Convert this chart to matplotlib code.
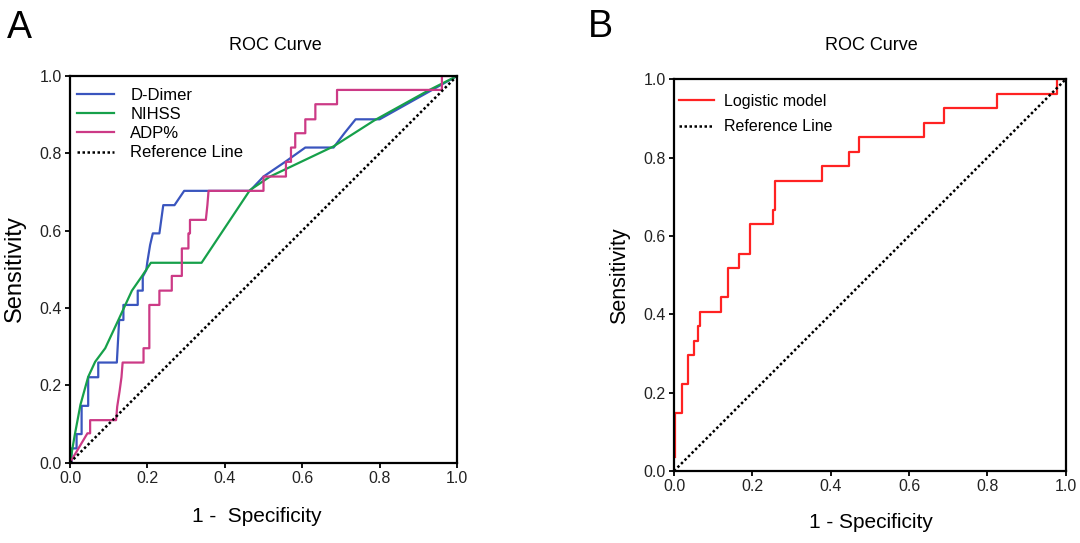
"""
Two ROC panels: (A) single markers D-Dimer / NIHSS / ADP%, (B) the combined logistic model.
"""

import matplotlib.pyplot as plt

plt.rcParams["font.family"] = ["Liberation Sans", "DejaVu Sans"]

# --- Panel A: ROC vertices (1 - specificity, sensitivity) ---
ddimer_fpr = [0, 0.004, 0.004, 0.017, 0.017, 0.030, 0.030, 0.047, 0.047, 0.073, 0.073,
              0.121, 0.127, 0.138, 0.138, 0.175, 0.175, 0.188, 0.188, 0.197, 0.200,
              0.207, 0.214, 0.231, 0.241, 0.270, 0.295, 0.465, 0.500, 0.556, 0.608,
              0.681, 0.709, 0.738, 0.800, 1.0]
ddimer_tpr = [0, 0, 0.037, 0.037, 0.074, 0.074, 0.147, 0.147, 0.221, 0.221, 0.259,
              0.259, 0.369, 0.369, 0.408, 0.408, 0.445, 0.445, 0.481, 0.498, 0.520,
              0.563, 0.593, 0.593, 0.666, 0.666, 0.703, 0.703, 0.740, 0.778, 0.815,
              0.815, 0.852, 0.888, 0.888, 1.0]

nihss_fpr = [0, 0.012, 0.027, 0.047, 0.065, 0.091, 0.125, 0.160, 0.185, 0.209, 0.340,
             0.465, 0.517, 0.681, 0.786, 0.925, 1.0]
nihss_tpr = [0, 0.070, 0.150, 0.222, 0.261, 0.296, 0.369, 0.445, 0.481, 0.517, 0.517,
             0.705, 0.740, 0.818, 0.885, 0.962, 1.0]

adp_fpr = [0, 0.045, 0.052, 0.052, 0.119, 0.122, 0.128, 0.133, 0.136, 0.190, 0.190,
           0.205, 0.205, 0.231, 0.231, 0.263, 0.263, 0.289, 0.289, 0.306, 0.306,
           0.310, 0.310, 0.351, 0.355, 0.358, 0.500, 0.500, 0.558, 0.558, 0.571,
           0.571, 0.582, 0.582, 0.608, 0.608, 0.634, 0.634, 0.690, 0.690, 0.961,
           0.961, 1.0]
adp_tpr = [0, 0.076, 0.076, 0.110, 0.110, 0.145, 0.184, 0.221, 0.259, 0.259, 0.296,
           0.296, 0.408, 0.408, 0.445, 0.445, 0.483, 0.483, 0.554, 0.554, 0.593,
           0.593, 0.628, 0.628, 0.666, 0.703, 0.703, 0.740, 0.740, 0.778, 0.778,
           0.815, 0.815, 0.852, 0.852, 0.888, 0.888, 0.927, 0.927, 0.964, 0.964,
           1.0, 1.0]

# --- Panel B: logistic model, step points (drawn with steps-post) ---
logit_fpr = [0.003, 0.003, 0.020, 0.036, 0.052, 0.061, 0.066, 0.120, 0.137, 0.167,
             0.194, 0.252, 0.258, 0.379, 0.447, 0.472, 0.637, 0.689, 0.825, 0.979, 1.0]
logit_tpr = [0.037, 0.148, 0.222, 0.296, 0.333, 0.370, 0.407, 0.444, 0.518, 0.555,
             0.630, 0.667, 0.741, 0.778, 0.815, 0.852, 0.889, 0.926, 0.963, 1.0, 1.0]

ref_line = [0, 1]
ticks = [0.0, 0.2, 0.4, 0.6, 0.8, 1.0]
tick_labels = ["0.0", "0.2", "0.4", "0.6", "0.8", "1.0"]

W, H = 1080, 543


def style_axes(ax):
    ax.set_xlim(0, 1)
    ax.set_ylim(0, 1)
    ax.set_xticks(ticks)
    ax.set_yticks(ticks)
    ax.set_xticklabels(tick_labels)
    ax.set_yticklabels(tick_labels)
    ax.tick_params(direction="out", length=3.8, width=1.3, pad=2,
                   labelsize=11.5, labelcolor="#222222")
    for sp in ax.spines.values():
        sp.set_linewidth(1.6)
        sp.set_color("black")


def plot_reference(ax):
    ax.plot(ref_line, ref_line, color="black", linewidth=1.8,
            dashes=(1, 1), label="Reference Line")


fig = plt.figure(figsize=(W / 100, H / 100), dpi=100)

# Panel A
axA = fig.add_axes([70 / W, (H - 462.7) / H, 387 / W, 386.7 / H])
axA.plot(ddimer_fpr, ddimer_tpr, color="#3A55BE", linewidth=1.6, label="D-Dimer")
axA.plot(nihss_fpr, nihss_tpr, color="#16A04A", linewidth=1.6, label="NIHSS")
axA.plot(adp_fpr, adp_tpr, color="#CC3A86", linewidth=1.6, label="ADP%")
plot_reference(axA)
style_axes(axA)
axA.legend(loc="upper left", bbox_to_anchor=(0.018, 0.969), frameon=False,
           fontsize=12, handlelength=2.2, handletextpad=1.0, labelspacing=0.25,
           borderaxespad=0, borderpad=0)

# Panel B
axB = fig.add_axes([674 / W, (H - 471) / H, 391.7 / W, 391.7 / H])
axB.plot(logit_fpr, logit_tpr, color="#FF2222", linewidth=1.6,
         drawstyle="steps-post", label="Logistic model")
plot_reference(axB)
style_axes(axB)
axB.legend(loc="upper left", bbox_to_anchor=(0.012, 0.963), frameon=False,
           fontsize=11.5, handlelength=2.2, handletextpad=0.65, labelspacing=0.65,
           borderaxespad=0, borderpad=0)

# Text placed to match the source layout
fig.text(7 / W, 1 - 38 / H, "A", fontsize=27, ha="left", va="baseline")
fig.text(588 / W, 1 - 37 / H, "B", fontsize=27, ha="left", va="baseline")
fig.text(275 / W, 1 - 46 / H, "ROC Curve", fontsize=13, ha="center", va="center")
fig.text(871.7 / W, 1 - 46 / H, "ROC Curve", fontsize=13, ha="center", va="center")
fig.text(257 / W, 1 - 521.7 / H, "1 -  Specificity", fontsize=15, ha="center", va="baseline")
fig.text(870.7 / W, 1 - 528.3 / H, "1 - Specificity", fontsize=15, ha="center", va="baseline")
fig.text(15 / W, 1 - 269 / H, "Sensitivity", fontsize=17, rotation=90, ha="center", va="center")
fig.text(620 / W, 1 - 276 / H, "Sensitivity", fontsize=15.5, rotation=90, ha="center", va="center")

fig.savefig("out.png", dpi=100)
plt.close(fig)
